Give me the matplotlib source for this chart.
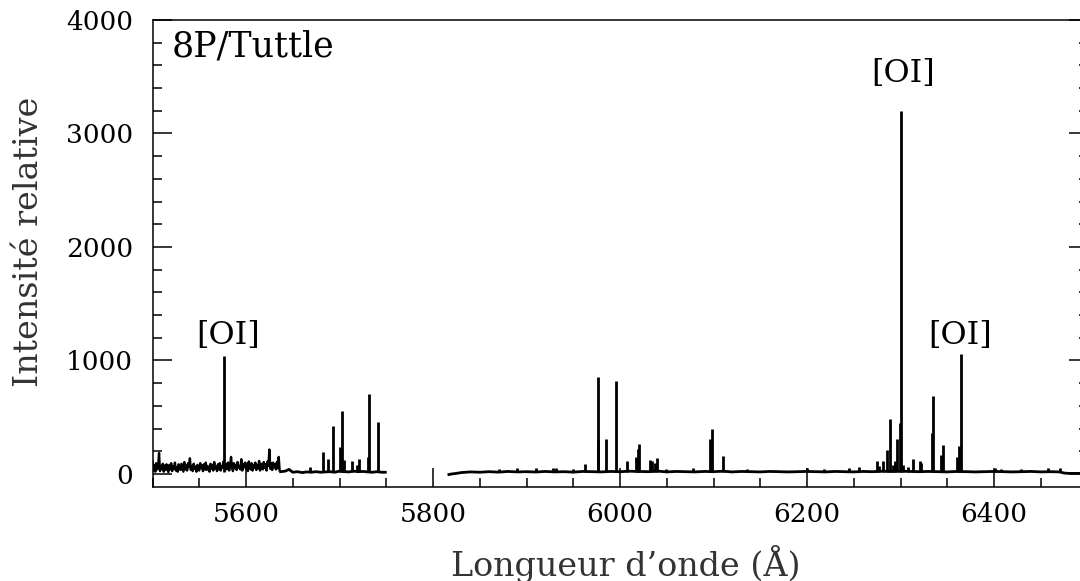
import numpy as np
import matplotlib
matplotlib.use("Agg")
import matplotlib.pyplot as plt
from matplotlib.ticker import MultipleLocator

# ---------------- data ----------------
# Segment 1: noisy part 5500-5636 A (1 A steps)
noise_start = 5500
noise_vals = [110, 30, 80, 20, 95, 40, 60, 185, 25, 70,
              45, 90, 20, 75, 35, 85, 50, 15, 80, 40,
              95, 25, 70, 45, 100, 30, 60, 20, 85, 50,
              35, 90, 55, 20, 105, 40, 75, 30, 95, 60,
              138, 35, 70, 25, 90, 45, 65, 20, 80, 55,
              30, 95, 50, 75, 25, 85, 40, 100, 35, 70,
              55, 20, 90, 45, 80, 30, 105, 50, 65, 25,
              85, 40, 95, 30, 70, 55, 110, 60, 35, 90,
              45, 100, 30, 75, 150, 60, 25, 95, 50, 80,
              35, 105, 55, 70, 40, 130, 30, 85, 60, 100,
              45, 90, 25, 110, 65, 40, 95, 30, 80, 55,
              100, 35, 75, 50, 115, 30, 90, 60, 40, 105,
              55, 85, 30, 110, 70, 215, 45, 95, 35, 100,
              60, 85, 40, 105, 50, 150, 30]

# Segment 1: quieter continuation 5637-5749 A
seg1_wave = [5637, 5642, 5646, 5650, 5655, 5660, 5665, 5670, 5675, 5680,
             5685, 5690, 5695, 5700, 5705, 5710, 5715, 5720, 5725, 5730,
             5735, 5740, 5745, 5749]
seg1_flux = [20, 25, 40, 15, 20, 12, 18, 15, 20, 15,
             18, 20, 15, 25, 20, 18, 25, 20, 22, 18,
             15, 20, 15, 15]

seg1_peak_wave = [5577.0, 5668.5, 5682.0, 5687.5, 5693.4, 5700.5, 5702.8,
                  5704.5, 5713.7, 5719.0, 5720.9, 5730.8, 5731.9, 5740.9]
seg1_peak_flux = [1040, 65, 190, 130, 425, 235, 555,
                  120, 112, 80, 130, 145, 705, 460]

# Segment 2: 5817-6500 A continuum
seg2_wave = [5817, 5820, 5825, 5830, 5840, 5850, 5860, 5870, 5880, 5890,
             5900, 5910, 5920, 5930, 5940, 5950, 5960, 5970, 5980, 5990,
             6000, 6010, 6020, 6030, 6040, 6050, 6060, 6070, 6080, 6090,
             6100, 6110, 6120, 6130, 6140, 6150, 6160, 6170, 6180, 6190,
             6200, 6210, 6220, 6230, 6240, 6250, 6260, 6270, 6280, 6290,
             6300, 6310, 6320, 6330, 6340, 6350, 6360, 6370, 6380, 6390,
             6400, 6410, 6420, 6430, 6440, 6450, 6460, 6470, 6475, 6480,
             6490, 6500]
seg2_flux = [-5, 0, 5, 12, 18, 15, 20, 16, 22, 18,
             20, 17, 22, 18, 20, 16, 22, 20, 18, 22,
             20, 24, 22, 20, 25, 18, 22, 20, 18, 22,
             20, 24, 18, 22, 20, 18, 22, 20, 18, 20,
             22, 20, 18, 22, 20, 18, 22, 20, 24, 22,
             25, 22, 20, 22, 20, 18, 22, 20, 18, 20,
             22, 20, 18, 20, 22, 18, 20, 18, 8, 5,
             5, 5]

seg2_peak_wave = [5870.6, 5889.5, 5910.0, 5928.0, 5931.5, 5950.0, 5962.6,
                  5976.2, 5976.8, 5984.8, 5995.4, 6007.2, 6017.5, 6019.0,
                  6020.3, 6032.0, 6034.0, 6037.8, 6039.6, 6049.0, 6078.4,
                  6084.5, 6096.3, 6098.4, 6109.8, 6121.0, 6135.5, 6199.7,
                  6218.5, 6245.3, 6256.0, 6274.5, 6277.4, 6281.6, 6285.9,
                  6288.8, 6291.7, 6294.0, 6296.6, 6299.5, 6300.4, 6303.0,
                  6308.4, 6313.0, 6320.5, 6321.6, 6333.4, 6334.7, 6343.0,
                  6345.5, 6360.0, 6362.6, 6364.7, 6401.0, 6407.0, 6428.9,
                  6457.4, 6470.6]
seg2_peak_flux = [45, 50, 50, 50, 50, 40, 88,
                  300, 855, 305, 815, 115, 150, 220,
                  260, 120, 115, 100, 140, 40, 50,
                  30, 305, 400, 155, 30, 40, 50,
                  40, 55, 65, 115, 70, 110, 210,
                  480, 80, 110, 305, 450, 3200, 80,
                  60, 130, 110, 100, 360, 690, 170,
                  255, 150, 245, 1060, 50, 40, 40,
                  55, 50]

line_labels = ["[OI]", "[OI]", "[OI]"]
line_label_x = [5581, 6302.7, 6363.6]
line_label_y = [1145, 3450, 1145]

x_ticks = [5600, 5800, 6000, 6200, 6400]
y_ticks = [0, 1000, 2000, 3000, 4000]

# ---------------- figure ----------------
W, H = 1080, 581
fig = plt.figure(figsize=(W / 100, H / 100), dpi=100)
left_px, right_px, top_px, bottom_px = 152.5, 1087.5, 20, 487
ax = fig.add_axes([left_px / W, 1 - bottom_px / H,
                   (right_px - left_px) / W, (bottom_px - top_px) / H])

lw = 2.0
noise_wave = np.arange(noise_start, noise_start + len(noise_vals))
ax.plot(noise_wave, noise_vals, color="black", lw=1.7)
ax.plot(seg1_wave, seg1_flux, color="black", lw=lw)
ax.vlines(seg1_peak_wave, 15, seg1_peak_flux, color="black", lw=lw)
ax.plot(seg2_wave, seg2_flux, color="black", lw=lw)
ax.vlines(seg2_peak_wave, 15, seg2_peak_flux, color="black", lw=lw)

ax.set_xlim(5500, 6500)
ax.set_ylim(-115, 4000)

serif = "DejaVu Serif"
ax.set_xticks(x_ticks)
ax.set_yticks(y_ticks)
ax.xaxis.set_minor_locator(MultipleLocator(50))
ax.yaxis.set_minor_locator(MultipleLocator(200))
ax.tick_params(which="both", direction="in", top=False, right=True,
               width=1.1, color="black")
ax.tick_params(which="major", length=13.7)
ax.tick_params(which="minor", length=6.8)
ax.tick_params(axis="x", which="major", pad=10.5)
ax.tick_params(axis="y", which="major", pad=14)
for lab in ax.get_xticklabels() + ax.get_yticklabels():
    lab.set_fontfamily(serif)
    lab.set_fontsize(19)
for sp in ax.spines.values():
    sp.set_linewidth(1.1)
    sp.set_color("black")

ax.set_xlabel("Longueur d\u2019onde (\u00c5)", fontfamily=serif, fontsize=24,
              color="#333333")
ax.xaxis.set_label_coords(0.506, -0.124)
ax.set_ylabel("Intensit\u00e9 relative", fontfamily=serif, fontsize=24,
              color="#333333")
ax.yaxis.set_label_coords(-0.115, 0.525)

ax.text(0.0209, 0.921, "8P/Tuttle", transform=ax.transAxes, ha="left",
        va="baseline", fontfamily=serif, fontsize=25, color="black")
for t, xx, yy in zip(line_labels, line_label_x, line_label_y):
    ax.text(xx, yy, t, ha="center", va="baseline", fontfamily=serif,
            fontsize=23, color="black")

fig.savefig("out.png", dpi=100)
